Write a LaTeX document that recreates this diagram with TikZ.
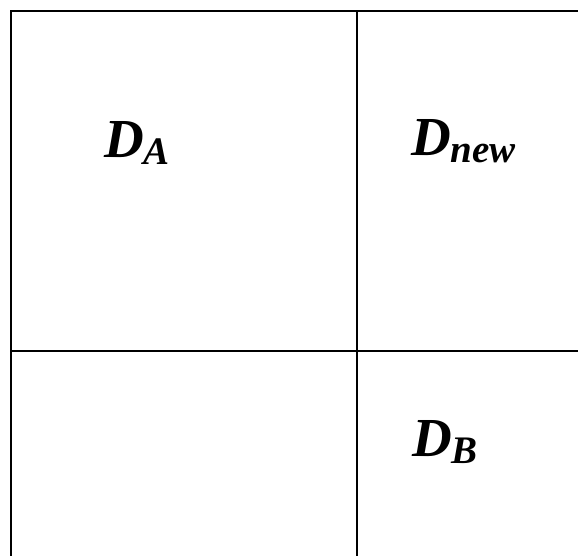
\documentclass[tikz,border=0pt]{standalone}
\usepackage{fontspec}
\setmainfont{Liberation Serif}

\newcommand{\domname}[2]{\bfseries\itshape\fontsize{55}{55}\selectfont #1\raisebox{-7pt}{\fontsize{39}{39}\selectfont #2}}

\begin{document}
\begin{tikzpicture}[x=1pt,y=-1pt,line cap=rect,line join=miter]
        \tikzset{partline/.style={line width=2pt},
                 domlabel/.style={anchor=base west,inner sep=0pt}}
        \useasboundingbox (0,0) rectangle (578,556);

        % Puntos principales de la partición
        \coordinate (TL) at (11,11);
        \coordinate (TR) at (578,11);
        \coordinate (BL) at (11,556);
        \coordinate (TM) at (357,11);
        \coordinate (BM) at (357,556);
        \coordinate (ML) at (11,351);
        \coordinate (MR) at (578,351);

        % Bordes y divisiones
        \draw[partline] (BL) -- (TL) -- (TR);
        \draw[partline] (TM) -- (BM);
        \draw[partline] (ML) -- (MR);

        % Nombres de los dominios
        \node[domlabel] (dA) at (104,158) {\domname{D}{A}};
        \node[domlabel] (dnew) at (411,156) {\domname{D}{new}};
        \node[domlabel] (dB) at (412,456) {\domname{D}{B}};
    \end{tikzpicture}
\end{document}
